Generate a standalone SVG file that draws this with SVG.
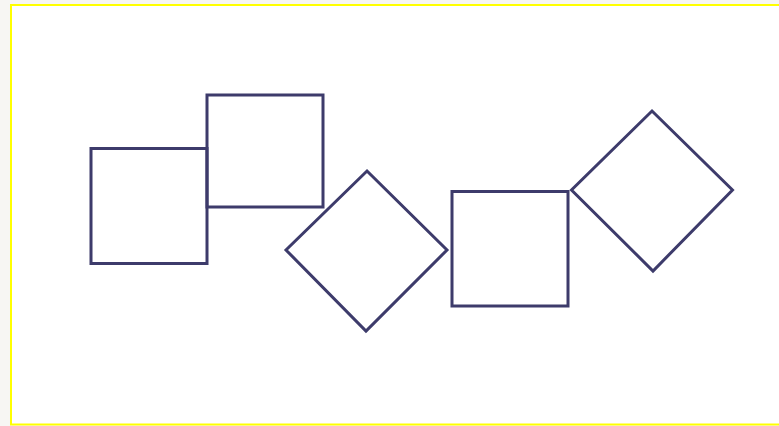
<svg xmlns="http://www.w3.org/2000/svg" width="779" height="426" viewBox="0 0 779 426">
<style>
.shape{fill:none;stroke:#3d3b6b;stroke-width:3;stroke-linejoin:miter}
</style>
<rect x="0" y="0" width="779" height="426" fill="#f7f6f3"/>
<rect x="11" y="5" width="775" height="419.5" fill="#ffffff" stroke="#ffff00" stroke-width="2"/>
<g id="square1"><rect class="shape" x="91" y="148.5" width="116" height="115"/></g>
<g id="square2"><rect class="shape" x="207" y="95" width="116" height="112"/></g>
<g id="diamond1"><polygon class="shape" points="367,171 447,250 366,331 286,250"/></g>
<g id="square3"><rect class="shape" x="452" y="191.5" width="116" height="114.5"/></g>
<g id="diamond2"><polygon class="shape" points="652,111 732.5,190 653,271 571.5,190"/></g>
<g id="connectors"></g>
</svg>
